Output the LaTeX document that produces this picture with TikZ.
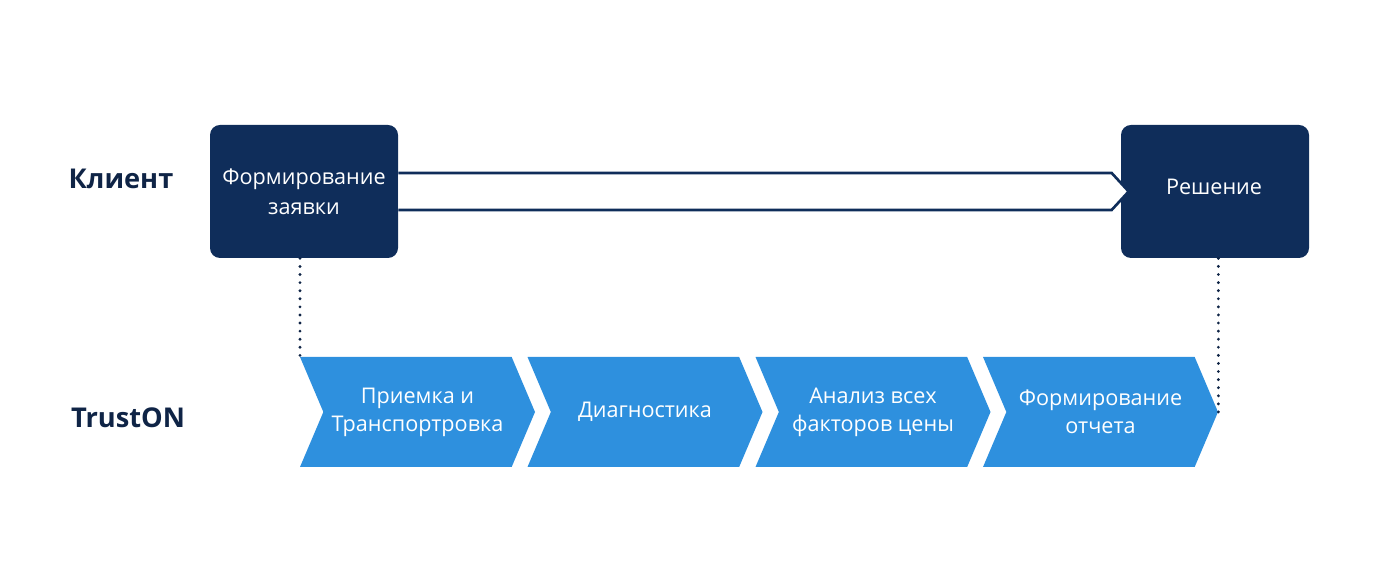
\documentclass[tikz,border=0pt]{standalone}
\usepackage{fontspec}
\setmainfont{Open Sans}
\usetikzlibrary{shapes.symbols}

\definecolor{navy}{HTML}{0F2D5A}
\definecolor{ink}{HTML}{0F2446}
\definecolor{sky}{HTML}{2E90DE}

\begin{document}
\begin{tikzpicture}[
		box/.style={rectangle, rounded corners=2mm, fill=navy, text=white, minimum width=3.76cm, minimum height=2.66cm, align=center, font=\fontsize{12.3}{17}\selectfont},
		chevron/.style={signal, signal to=east, signal from=west, signal pointer angle=134, fill=sky, text=white, minimum width=4.7cm, minimum height=2.2cm, inner sep=0pt, align=center, font=\fontsize{12.3}{16}\selectfont},
		lane/.style={text=ink, font=\fontsize{15.5}{18}\selectfont\bfseries},
		link/.style={draw=ink, line width=1.8pt, dash pattern=on 0pt off 4.6pt, line cap=round}
	]
  \useasboundingbox (0cm, 0cm) rectangle (27.52cm, 11.5cm);
  % rows
  \node (client) [lane] at (2.42cm, 7.92cm) {Клиент};
  \node (truston) [lane] at (2.56cm, 3.14cm) {TrustON};
  % client side
  \node (box_a) [box] at (6.08cm, 7.67cm) {Формирование\\заявки};
  \node (box_b) [box] at (24.3cm, 7.67cm) {};
  \node (box_b_label) [text=white, font=\fontsize{12.3}{17}\selectfont] at (24.28cm, 7.77cm) {Решение};
  % TrustON steps
  \node (chev_a) [chevron] at (8.35cm, 3.26cm) {Приемка и\\Транспортровка};
  \node (chev_b) [chevron] at (12.90cm, 3.26cm) {Диагностика};
  \node (chev_c) [chevron] at (17.46cm, 3.26cm) {Анализ всех\\факторов цены};
  \node (chev_d) [chevron] at (22.01cm, 3.26cm) {Формирование\\отчета};
  % big arrow
  \draw [draw=navy, fill=white, line width=1.5pt, line join=miter]
    ([yshift=0.37cm]box_a.east) -- ([xshift=-0.18cm, yshift=0.37cm]box_b.west)
    -- ([xshift=0.16cm]box_b.west)
    -- ([xshift=-0.18cm, yshift=-0.37cm]box_b.west) -- ([yshift=-0.37cm]box_a.east);
  \draw [link] ([xshift=-0.08cm]box_a.south) -- ([xshift=-2.35cm]chev_a.north);
  \draw [link] (box_b.south -| chev_d.east) -- (chev_d.east);
\end{tikzpicture}
\end{document}
